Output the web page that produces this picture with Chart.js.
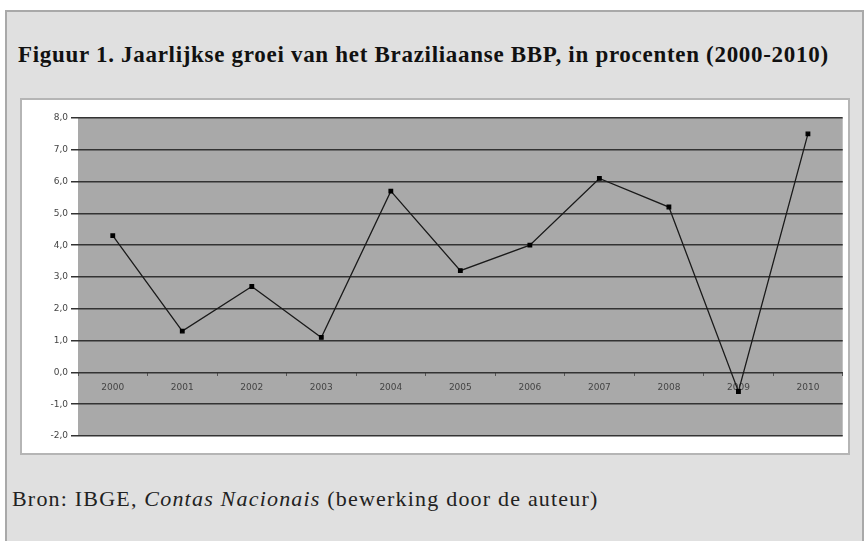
<!DOCTYPE html>
<html>
<head>
<meta charset="utf-8">
<script src="https://cdn.jsdelivr.net/npm/chart.js@4"></script>
<style>
  html, body { margin: 0; padding: 0; background: #fff; }
  body { width: 865px; height: 541px; position: relative; overflow: hidden; }
  #frame {
    position: absolute; left: 5px; top: 10px; width: 855px; height: 540px;
    background: #e0e0e0; border: 2px solid #a9a9a9; border-bottom: none;
  }
  #title {
    position: absolute; left: 18px; top: 42px;
    font: bold 23px "Liberation Serif", serif; letter-spacing: 0.7px; color: #111; white-space: nowrap;
  }
  #panel {
    position: absolute; left: 20px; top: 98px; width: 826px; height: 353px;
    background: #fff; border: 2px solid #b5b5b5;
  }
  #src {
    position: absolute; left: 12px; top: 486px;
    font: 22px "Liberation Serif", serif; letter-spacing: 1.2px; color: #222; white-space: nowrap;
  }
</style>
</head>
<body>
<div id="frame"></div>
<div id="title">Figuur 1. Jaarlijkse groei van het Braziliaanse BBP, in procenten (2000-2010)</div>
<div id="panel"><canvas id="c" width="826" height="353"></canvas></div>
<div id="src">Bron: IBGE, <i>Contas Nacionais</i> (bewerking door de auteur)</div>
<script>
const years = ['2000', '2001', '2002', '2003', '2004', '2005', '2006', '2007', '2008', '2009', '2010'];
const growth = [4.3, 1.3, 2.7, 1.1, 5.7, 3.2, 4.0, 6.1, 5.2, -0.6, 7.5];

// grey plot background like the old Excel chart
const plotBg = {
  id: 'plotBg',
  beforeInit(chart) { chart.ctx.letterSpacing = '1px'; },
  beforeDraw(chart) {
    const a = chart.chartArea, ctx = chart.ctx;
    ctx.save();
    ctx.fillStyle = '#a9a9a9';
    ctx.fillRect(a.left, a.top, a.right - a.left, a.bottom - a.top);
    ctx.restore();
  }
};

const tickFont = { family: 'DejaVu Sans', size: 9 };

new Chart(document.getElementById('c'), {
  type: 'line',
  data: {
    labels: years,
    datasets: [{
      data: growth,
      borderColor: '#1a1a1a',
      borderWidth: 1.3,
      pointStyle: 'rect',
      pointRadius: 2.5,
      pointBackgroundColor: '#000',
      pointBorderColor: '#000',
      tension: 0
    }]
  },
  options: {
    responsive: false,
    animation: false,
    layout: { padding: { top: 18, right: 5, bottom: 17, left: 0 } },
    plugins: { legend: { display: false }, tooltip: { enabled: false } },
    scales: {
      x: {
        position: { y: 0 },
        offset: true,
        border: { display: false },
        grid: { offset: true, drawOnChartArea: false, tickLength: 4, color: '#555' },
        ticks: { color: '#444', font: tickFont, padding: 6, maxRotation: 0 }
      },
      y: {
        min: -2, max: 8,
        border: { display: false },
        afterFit(s) { s.width = 56; },
        grid: { color: '#333', lineWidth: 1.5, tickLength: 7 },
        ticks: {
          stepSize: 1,
          color: '#444',
          font: tickFont,
          padding: 3,
          callback: v => v.toFixed(1).replace('.', ',')
        }
      }
    }
  },
  plugins: [plotBg]
});
</script>
</body>
</html>
